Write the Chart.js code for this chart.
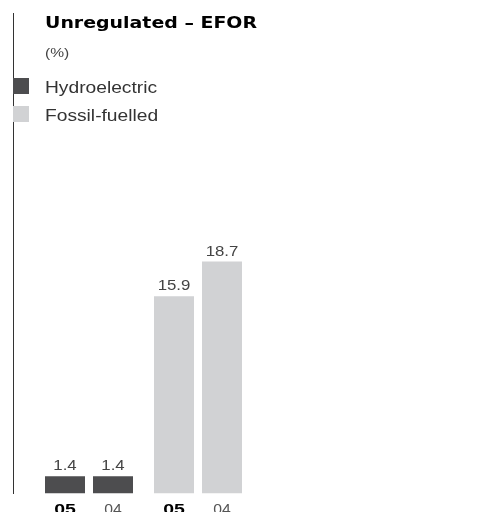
<!DOCTYPE html>
<html>
<head>
<meta charset="utf-8">
<script src="https://cdn.jsdelivr.net/npm/chart.js@4"></script>
<style>
  html, body { margin: 0; padding: 0; background: #fff; }
  #wrap { width: 478px; height: 512px; position: relative; }
</style>
</head>
<body>
<div id="wrap"><canvas id="myChart" width="478" height="512"></canvas></div>
<script>
// chart data
var groups = ['Hydroelectric', 'Fossil-fuelled'];
var years = ['05', '04'];
var values05 = [1.4, 15.9];
var values04 = [1.4, 18.7];
var groupColors = ['#4d4d4f', '#d1d2d4'];

var FONT = '"Liberation Sans", Arial, Helvetica, sans-serif';
var STRETCH = 1.2; // the original type is set wide

// draw text stretched horizontally, anchored at x
function wideText(c, text, x, y, align, sx) {
    var w = c.measureText(text).width * sx;
    var left = x;
    if (align === 'center') left = x - w / 2;
    c.save();
    c.translate(left, y);
    c.scale(sx, 1);
    c.textAlign = 'left';
    c.fillText(text, 0, 0);
    c.restore();
}

var decorPlugin = {
    id: 'decor',
    afterDatasetsDraw: function (chart) {
        var c = chart.ctx;
        c.save();

        // left rule
        c.strokeStyle = '#333';
        c.lineWidth = 1;
        c.beginPath();
        c.moveTo(13.5, 13);
        c.lineTo(13.5, 494);
        c.stroke();

        // header
        c.textBaseline = 'alphabetic';
        c.fillStyle = '#000';
        c.font = 'bold 16px "DejaVu Sans", sans-serif';
        var title = 'Unregulated \u2013 EFOR';
        wideText(c, title, 45, 28, 'left', 212 / c.measureText(title).width);
        c.fillStyle = '#444';
        c.font = '13px ' + FONT;
        wideText(c, '(%)', 45, 57, 'left', STRETCH);

        // legend
        c.font = '16px ' + FONT;
        groups.forEach(function (g, i) {
            var y = 78 + i * 28;
            c.fillStyle = groupColors[i];
            c.fillRect(13, y, 16, 16);
            c.fillStyle = '#333';
            wideText(c, g, 45, y + 15, 'left', STRETCH);
        });

        // value labels and year labels
        chart.data.datasets.forEach(function (ds, di) {
            var meta = chart.getDatasetMeta(di);
            meta.data.forEach(function (bar, i) {
                c.fillStyle = '#444';
                c.font = '14px ' + FONT;
                wideText(c, ds.data[i].toFixed(1), bar.x, bar.y - 6, 'center', STRETCH);

                if (di === 0) {
                    c.fillStyle = '#000';
                    c.font = 'bold 15px ' + FONT;
                    wideText(c, years[di], bar.x, 514, 'center', 1.3);
                } else {
                    c.fillStyle = '#555';
                    c.font = '15px ' + FONT;
                    wideText(c, years[di], bar.x, 514, 'center', 1.05);
                }
            });
        });
        c.restore();
    }
};

var ctx = document.getElementById('myChart').getContext('2d');
var myChart = new Chart(ctx, {
    type: 'bar',
    data: {
        labels: groups,
        datasets: [{
            label: years[0],
            data: values05,
            backgroundColor: groupColors
        }, {
            label: years[1],
            data: values04,
            backgroundColor: groupColors
        }]
    },
    options: {
        responsive: false,
        animation: false,
        categoryPercentage: 0.8807,
        barPercentage: 0.8333,
        layout: {
            padding: { left: 34.5, right: 225.5, top: 245.5, bottom: 18.5 }
        },
        scales: {
            x: { display: false },
            y: { display: false, min: 0, max: 20 }
        },
        plugins: {
            legend: { display: false },
            tooltip: { enabled: false }
        }
    },
    plugins: [decorPlugin]
});
</script>
</body>
</html>
